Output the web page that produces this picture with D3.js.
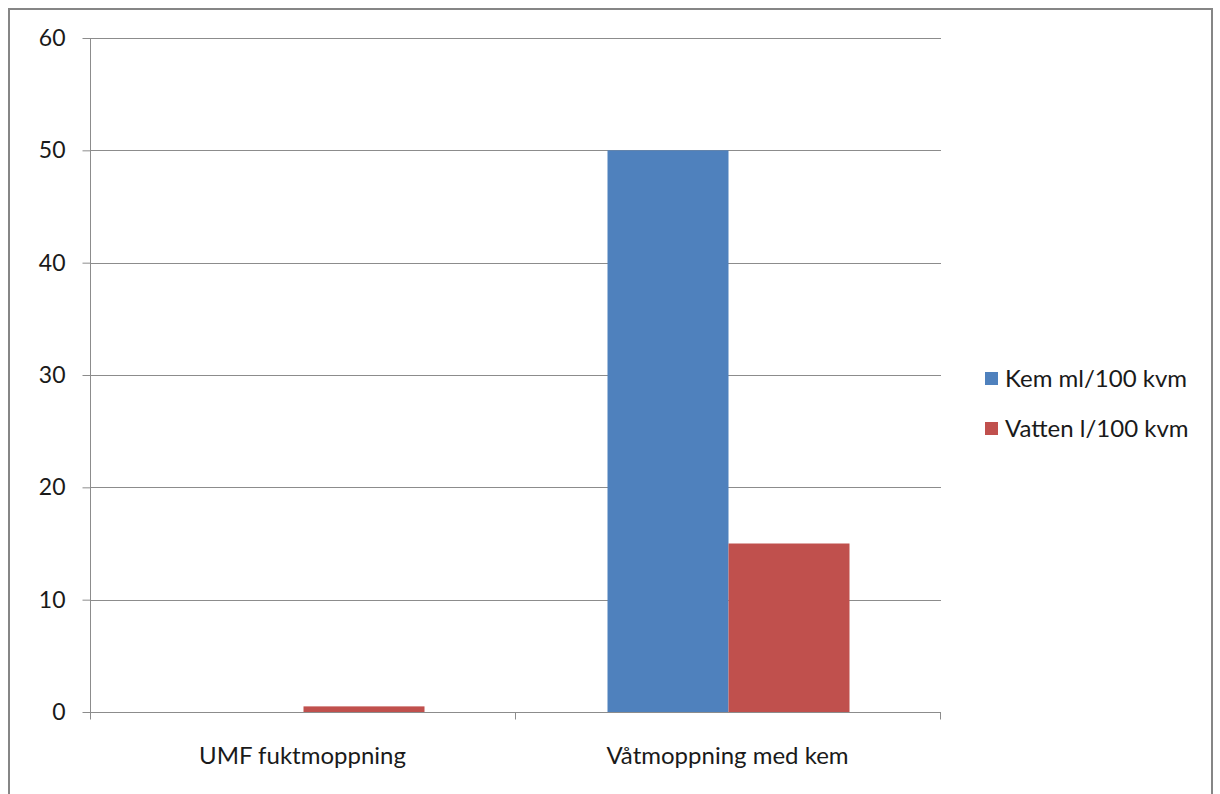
<!DOCTYPE html>
<html>
<head>
<meta charset="utf-8">
<script src="https://cdn.jsdelivr.net/npm/d3@7/dist/d3.min.js"></script>
<style>
  html, body { margin: 0; padding: 0; background: #fff; }
  svg { display: block; }
  text { font-family: Lato, "Open Sans", "Liberation Sans", sans-serif; fill: #1a1a1a; }
</style>
</head>
<body>
<svg id="chart" width="1220" height="794"></svg>
<script>
// Data
const categories = ["UMF fuktmoppning", "Våtmoppning med kem"];
const seriesNames = ["Kem ml/100 kvm", "Vatten l/100 kvm"];
const kemValues = [0, 50];
const vattenValues = [0.5, 15];
const yTicks = [0, 10, 20, 30, 40, 50, 60];
const seriesColors = ["#4F81BD", "#C0504D"];

const svg = d3.select("#chart");

// Outer chart frame
svg.append("rect")
  .attr("x", 9).attr("y", 9)
  .attr("width", 1203).attr("height", 800)
  .attr("fill", "#fff")
  .attr("stroke", "#868686")
  .attr("stroke-width", 2);

const plot = { left: 90, right: 940, top: 38, bottom: 712 };

const x = d3.scaleBand()
  .domain(categories)
  .range([plot.left, plot.right])
  .paddingInner(0)
  .paddingOuter(0);

const bandW = x.bandwidth();
const barW = bandW * 121 / 425;
const groupW = barW * seriesNames.length;

const xs = d3.scaleBand()
  .domain(seriesNames)
  .range([(bandW - groupW) / 2 + 1, (bandW + groupW) / 2 + 1]);

const y = d3.scaleLinear()
  .domain([0, 60])
  .range([plot.bottom, plot.top]);

// Horizontal gridlines
svg.append("g")
  .selectAll("line")
  .data(yTicks.filter(d => d !== 0))
  .join("line")
  .attr("x1", plot.left).attr("x2", plot.right + 1)
  .attr("y1", d => Math.round(y(d)) + 0.5)
  .attr("y2", d => Math.round(y(d)) + 0.5)
  .attr("stroke", "#8c8c8c")
  .attr("stroke-width", 1);

// Bars
const rows = categories.map((c, i) => ({
  category: c,
  values: [
    { series: seriesNames[0], value: kemValues[i], color: seriesColors[0] },
    { series: seriesNames[1], value: vattenValues[i], color: seriesColors[1] }
  ]
}));

svg.append("g")
  .selectAll("g")
  .data(rows)
  .join("g")
  .attr("transform", d => `translate(${x(d.category)},0)`)
  .selectAll("rect")
  .data(d => d.values.filter(v => v.value > 0))
  .join("rect")
  .attr("x", d => xs(d.series))
  .attr("width", xs.bandwidth())
  .attr("y", d => y(d.value))
  .attr("height", d => y(0) - y(d.value))
  .attr("fill", d => d.color);

// Y axis
const yAxis = d3.axisLeft(y)
  .tickValues(yTicks)
  .tickSize(8)
  .tickPadding(17)
  .tickFormat(d3.format("d"));

const yg = svg.append("g")
  .attr("transform", `translate(${plot.left + 0.5},0)`)
  .call(yAxis);
yg.select(".domain").attr("stroke", "#8c8c8c").attr("d", `M0,${plot.top}V${plot.bottom}`);
yg.selectAll(".tick line").attr("stroke", "#8c8c8c");
yg.selectAll(".tick text")
  .attr("font-size", 23)
  .attr("fill", "#1a1a1a")
  .style("font-family", "Lato, 'Open Sans', sans-serif");

// X axis with boundary ticks between categories
const xg = svg.append("g")
  .attr("transform", `translate(0,${Math.round(y(0)) + 0.5})`);
xg.append("line")
  .attr("x1", plot.left).attr("x2", plot.right + 1)
  .attr("stroke", "#8c8c8c");
const bounds = categories.map(c => x(c)).concat([plot.right]);
xg.selectAll("line.tick")
  .data(bounds)
  .join("line")
  .attr("class", "tick")
  .attr("x1", d => Math.round(d) + 0.5).attr("x2", d => Math.round(d) + 0.5)
  .attr("y1", 0).attr("y2", 7)
  .attr("stroke", "#8c8c8c");
xg.selectAll("text")
  .data(categories)
  .join("text")
  .attr("x", d => x(d) + bandW / 2)
  .attr("y", 43)
  .attr("dy", "0.35em")
  .attr("text-anchor", "middle")
  .attr("font-size", 24)
  .text(d => d);

// Legend
const legend = svg.append("g").attr("transform", "translate(985,372)");
const li = legend.selectAll("g")
  .data(seriesNames)
  .join("g")
  .attr("transform", (d, i) => `translate(0,${i * 50})`);
li.append("rect")
  .attr("width", 13).attr("height", 13)
  .attr("fill", (d, i) => seriesColors[i]);
li.append("text")
  .attr("x", 20).attr("y", 7)
  .attr("dy", "0.35em")
  .attr("font-size", 24)
  .text(d => d);
</script>
</body>
</html>
